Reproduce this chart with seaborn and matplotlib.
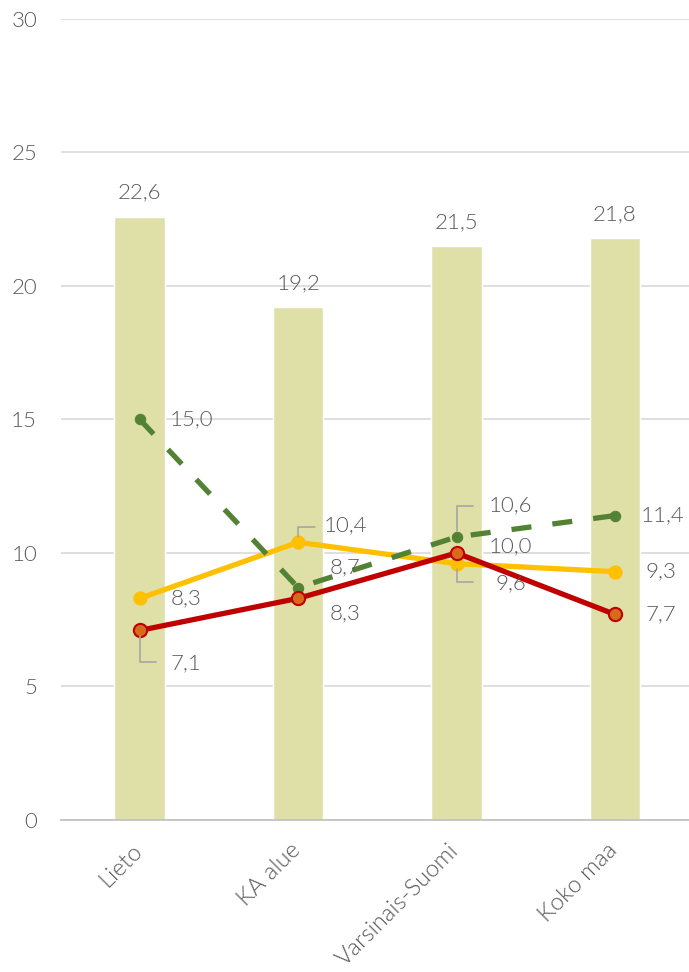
import numpy as np
import pandas as pd
import matplotlib
matplotlib.use('Agg')
import matplotlib.pyplot as plt
import matplotlib.transforms as mtransforms
import seaborn as sns

# Values
categories = ['Lieto', 'KA alue', 'Varsinais-Suomi', 'Koko maa']
bar_values = [22.6, 19.2, 21.5, 21.8]
yellow_values = [8.3, 10.4, 9.6, 9.3]
red_values = [7.1, 8.3, 10.0, 7.7]
green_values = [15.0, 8.7, 10.6, 11.4]

sns.set_style('white')
plt.rcParams['font.family'] = ['Lato', 'DejaVu Sans']
plt.rcParams['font.weight'] = 300

text_col = '#595959'
fig = plt.figure(figsize=(6.89, 9.72), dpi=100)
ax = fig.add_axes([0.088, 0.1564, 0.917, 0.8241])

pos = np.arange(len(categories))
df = pd.DataFrame({'cat': categories, 'val': bar_values})
sns.barplot(data=df, x='cat', y='val', color='#dfe0a8', saturation=1,
            width=0.32, ax=ax, zorder=2)

lw = 3.8
sns.lineplot(x=pos, y=yellow_values, color='#ffc000', lw=lw, marker='o',
             markersize=9.5, markeredgecolor='#ffc000', ax=ax, zorder=4)
sns.lineplot(x=pos, y=green_values, color='#548235', lw=lw, marker='o',
             markersize=7.5, markeredgecolor='#548235', ax=ax, zorder=5)
ax.lines[-1].set_dashes([3.8, 4.0])
sns.lineplot(x=pos, y=red_values, color='#c00000', lw=lw, marker='o',
             markersize=9.5, markerfacecolor='#d86a1c', markeredgecolor='#c00000',
             markeredgewidth=1.5, ax=ax, zorder=6)

fs = 16
lab = dict(fontsize=fs, color=text_col, fontweight=300)

def fmt(v):
    return f'{v:.1f}'.replace('.', ',')

# bar labels
for i, v in enumerate(bar_values):
    ax.annotate(fmt(v), (i, v), xytext=(0, 10), textcoords='offset points',
                ha='center', va='bottom', **lab)

# line labels: offsets in points (dx, dy)
yellow_off = [(33, 0), (34, 12), (39, -14), (33, 0)]
red_off = [(33, -24), (34, -11), (39, 5), (33, 0)]
green_off = [(37, 0), (34, 15), (39, 23), (34, 0)]
leader = {('y', 1), ('r', 0), ('g', 2), ('y', 2)}

for key, vals, offs in [('y', yellow_values, yellow_off), ('r', red_values, red_off),
                        ('g', green_values, green_off)]:
    for i, v in enumerate(vals):
        dx, dy = offs[i]
        ax.annotate(fmt(v), (i, v), xytext=(dx, dy), textcoords='offset points',
                    ha='center', va='center', zorder=7, **lab)
        if (key, i) in leader:
            sgn = 1 if dy > 0 else -1
            ax.annotate('', (i, v), xytext=(12, dy - sgn * 1), textcoords='offset points',
                        arrowprops=dict(arrowstyle='-', color='#a6a6a6', lw=1.2,
                                        connectionstyle='angle,angleA=0,angleB=90,rad=0',
                                        shrinkA=0, shrinkB=4), zorder=7)

ax.set_ylim(0, 30)
ax.set_xlim(-0.5, 3.49)
ax.set_yticks(range(0, 31, 5))
ax.yaxis.grid(True, color='#d9d9d9', lw=1.2, zorder=0)
ax.set_axisbelow(True)
for s in ['left', 'right', 'top']:
    ax.spines[s].set_visible(False)
ax.spines['bottom'].set_color('#bfbfbf')
ax.spines['bottom'].set_linewidth(1.2)
ax.set_xlabel('')
ax.set_ylabel('')
ax.tick_params(axis='both', length=0, labelsize=fs, labelcolor=text_col)
ax.tick_params(axis='x', pad=14, labelsize=17)
ax.tick_params(axis='y', pad=17)
ax.set_xticks(pos)
ax.set_xticklabels(categories, rotation=45, ha='right', rotation_mode='anchor')
shift = mtransforms.ScaledTranslation(-6 / 72, 0, fig.dpi_scale_trans)
for t in ax.get_xticklabels():
    t.set_transform(t.get_transform() + shift)
for t in ax.get_xticklabels() + ax.get_yticklabels():
    t.set_fontweight(300)

fig.savefig('out.png', dpi=100)
